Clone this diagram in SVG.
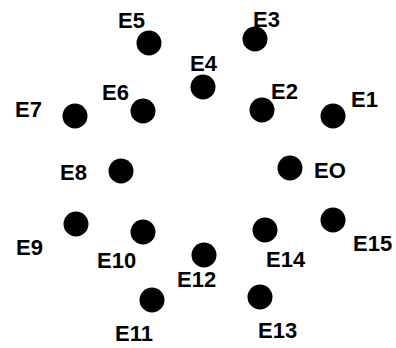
<svg xmlns="http://www.w3.org/2000/svg" width="396" height="348" viewBox="0 0 396 348">
<style>
.d{fill:#000}
.t{font-family:"Liberation Sans",Arial,sans-serif;font-size:22px;font-weight:bold;fill:#000}
</style>
<rect width="396" height="348" fill="#fff"/>
<g id="connectors"></g>
<g id="E0"><circle class="d" cx="290" cy="168" r="12.5"/><text class="t" x="314" y="178">EO</text></g>
<g id="E1"><circle class="d" cx="333" cy="116" r="12.5"/><text class="t" x="351" y="107">E1</text></g>
<g id="E2"><circle class="d" cx="262" cy="110" r="12.5"/><text class="t" x="271" y="99">E2</text></g>
<g id="E3"><circle class="d" cx="255" cy="39" r="12.5"/><text class="t" x="253" y="27">E3</text></g>
<g id="E4"><circle class="d" cx="203" cy="87" r="12.5"/><text class="t" x="190" y="71">E4</text></g>
<g id="E5"><circle class="d" cx="149" cy="43" r="12.5"/><text class="t" x="118" y="28">E5</text></g>
<g id="E6"><circle class="d" cx="143" cy="111" r="12.5"/><text class="t" x="102" y="100">E6</text></g>
<g id="E7"><circle class="d" cx="75" cy="116" r="12.5"/><text class="t" x="15" y="117">E7</text></g>
<g id="E8"><circle class="d" cx="121" cy="171" r="12.5"/><text class="t" x="60" y="180">E8</text></g>
<g id="E9"><circle class="d" cx="76" cy="224" r="12.5"/><text class="t" x="16" y="255">E9</text></g>
<g id="E10"><circle class="d" cx="143" cy="232" r="12.5"/><text class="t" x="97" y="268">E10</text></g>
<g id="E11"><circle class="d" cx="152" cy="300" r="12.5"/><text class="t" x="115" y="341">E11</text></g>
<g id="E12"><circle class="d" cx="204" cy="255" r="12.5"/><text class="t" x="177" y="287">E12</text></g>
<g id="E13"><circle class="d" cx="260" cy="297" r="12.5"/><text class="t" x="258" y="338">E13</text></g>
<g id="E14"><circle class="d" cx="265" cy="230" r="12.5"/><text class="t" x="266" y="267">E14</text></g>
<g id="E15"><circle class="d" cx="333" cy="220" r="12.5"/><text class="t" x="353" y="251">E15</text></g>
</svg>
